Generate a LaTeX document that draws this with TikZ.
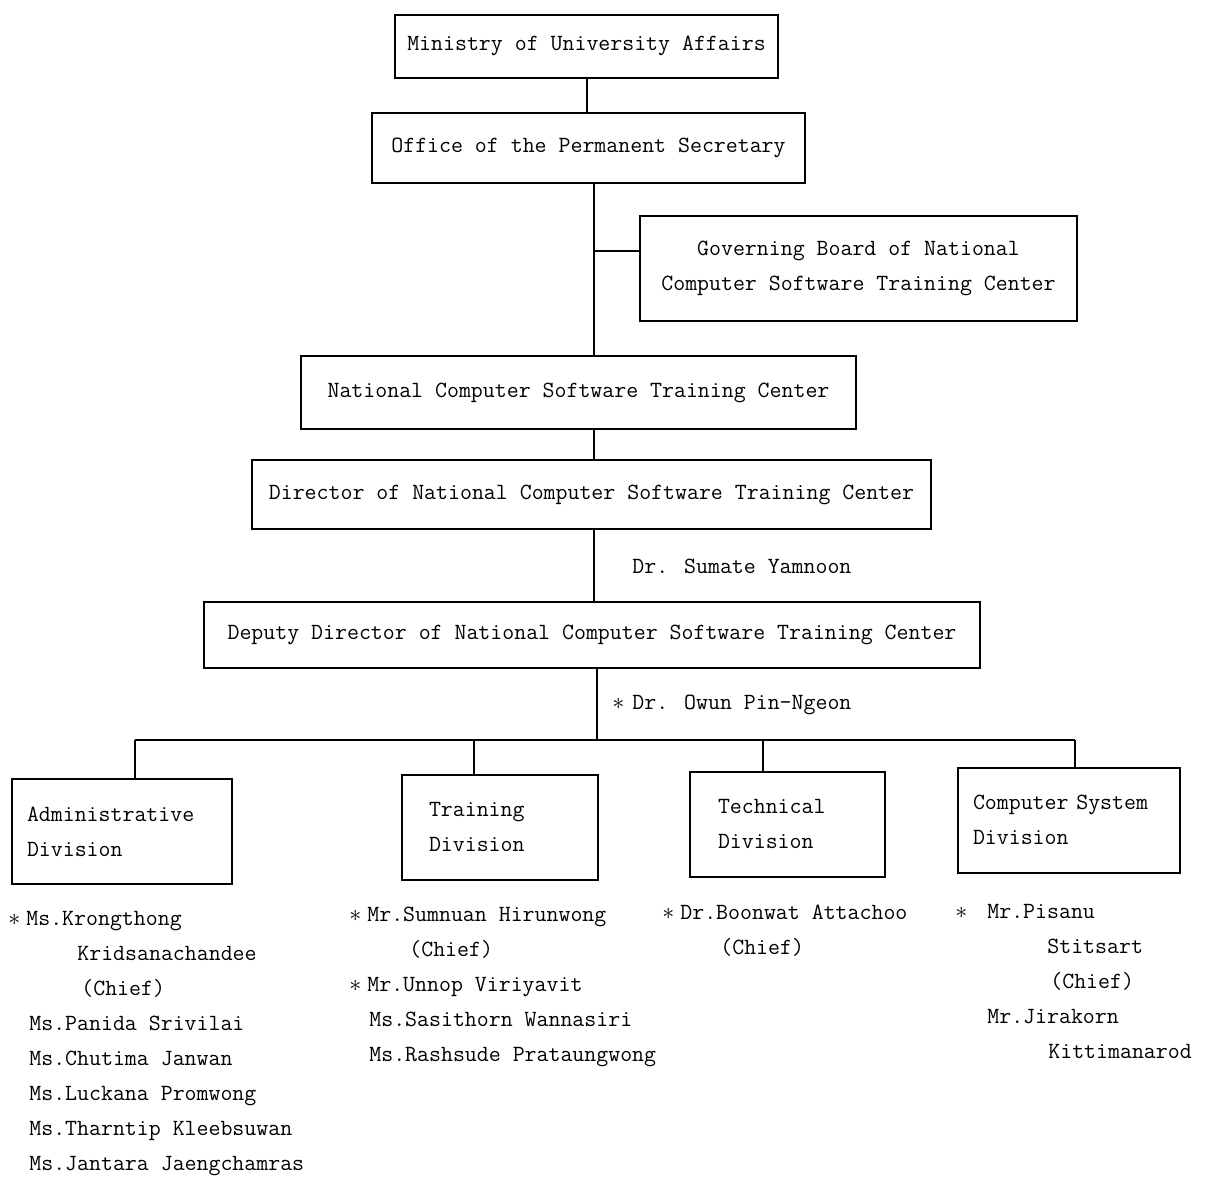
\documentclass[tikz,border=0pt]{standalone}
\usepackage{tikz}
\usetikzlibrary{positioning,calc}
\newcommand{\starmark}{\makebox[6pt][l]{$\ast$}}
\tikzset{
  box/.style={draw=black, line width=1pt, align=center, fill=white,
    font=\ttfamily\fontsize{11.6}{17.5}\selectfont},
  divbox/.style={box, align=left, minimum height=52.5pt},
  lbl/.style={inner sep=0pt, font=\ttfamily\fontsize{11.6}{17.5}\selectfont},
  staff/.style={lbl, align=left, anchor=west},
  conn/.style={line width=1pt}
}
\begin{document}
\begin{tikzpicture}[x=0.5pt, y=-0.5pt]
  \useasboundingbox (0,0) rectangle (1207,1178);

  % upper chain
  \node[box, minimum width=191.5pt, minimum height=31.5pt] (mua) at (586.5,46) {Ministry of University Affairs};
  \node[box, minimum width=216.5pt, minimum height=35pt] (office) at (588.5,148) {Office of the Permanent Secretary};
  \node[box, minimum width=218.5pt, minimum height=52.5pt] (gov) at (858.5,268.5) {Governing Board of National\\Computer Software Training Center};
  \node[box, minimum width=277.5pt, minimum height=36.5pt] (ncstc) at (578.5,392.5) {National Computer Software Training Center};
  \node[box, minimum width=339.5pt, minimum height=34.5pt] (dir) at (591.5,494.5) {Director of National Computer Software Training Center};
  \node[box, minimum width=388pt, minimum height=33pt] (dep) at (592,635) {Deputy Director of National Computer Software Training Center};

  \node[lbl, anchor=west] (sumate) at (632,566) {Dr. Sumate Yamnoon};
  \node[lbl, anchor=west] (owun) at (612,705) {\starmark\hspace{4pt}Dr. Owun Pin-Ngeon};

  % divisions
  \node[divbox, minimum width=110pt, text width=95pt, inner xsep=7.5pt] (admin) at (122,831.5) {Administrative\\Division};
  \node[divbox, minimum width=98pt, text width=71pt, inner xsep=13.5pt] (train) at (500,827) {Training\\Division};
  \node[divbox, minimum width=97.5pt, text width=69.5pt, inner xsep=14pt] (tech) at (787.5,824) {Technical\\Division};
  \node[divbox, minimum width=111pt, text width=96pt, inner xsep=7.5pt] (compsys) at (1069,820) {Computer System\\Division};

  % connectors
  \coordinate (spine) at (594,251);
  \coordinate (bus) at (597,740);
  \coordinate (d1) at (135,740);
  \coordinate (d2) at (474,740);
  \coordinate (d3) at (763,740);
  \coordinate (d4) at (1075,740);
  \draw[conn] (mua.south) -- (mua.south |- office.north);
  \draw[conn] (office.south -| spine) -- (ncstc.north -| spine);
  \draw[conn] (spine) -- (spine -| gov.west);
  \draw[conn] (ncstc.south -| spine) -- (dir.north -| spine);
  \draw[conn] (dir.south -| spine) -- (dep.north -| spine);
  \draw[conn] (dep.south -| bus) -- (bus);
  \draw[conn] (d1) -- (d4);
  \draw[conn] (d1) -- (d1 |- admin.north);
  \draw[conn] (d2) -- (d2 |- train.north);
  \draw[conn] (d3) -- (d3 |- tech.north);
  \draw[conn] (d4) -- (d4 |- compsys.north);

  % staff lists
  \node[staff] (adminstaff) at (8,1044) {\starmark\hspace{3pt}Ms.Krongthong\\
    \hspace*{34.5pt}Kridsanachandee\\
    \hspace*{36.5pt}(Chief)\\
    \hspace*{10.5pt}Ms.Panida Srivilai\\
    \hspace*{10.5pt}Ms.Chutima Janwan\\
    \hspace*{10.5pt}Ms.Luckana Promwong\\
    \hspace*{10.5pt}Ms.Tharntip Kleebsuwan\\
    \hspace*{10.5pt}Ms.Jantara Jaengchamras};
  \node[staff] (trainstaff) at (349,987) {\starmark\hspace{3pt}Mr.Sumnuan Hirunwong\\
    \hspace*{30pt}(Chief)\\
    \starmark\hspace{3pt}Mr.Unnop Viriyavit\\
    \hspace*{10pt}Ms.Sasithorn Wannasiri\\
    \hspace*{10pt}Ms.Rashsude Prataungwong};
  \node[staff] (techstaff) at (662,931) {\starmark\hspace{3pt}Dr.Boonwat Attachoo\\
    \hspace*{29pt}(Chief)};
  \node[staff] (compstaff) at (955,981) {\starmark\hspace{10pt}Mr.Pisanu\\
    \hspace*{46pt}Stitsart\\
    \hspace*{47.5pt}(Chief)\\
    \hspace*{16pt}Mr.Jirakorn\\
    \hspace*{46.5pt}Kittimanarod};
\end{tikzpicture}
\end{document}
